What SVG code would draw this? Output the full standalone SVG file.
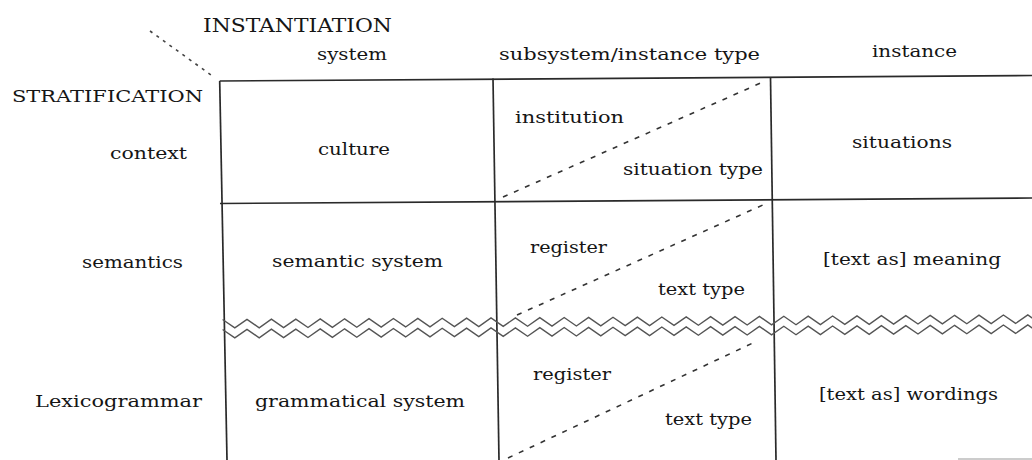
<svg xmlns="http://www.w3.org/2000/svg" width="1032" height="460" viewBox="0 0 1032 460">
<style>
  text { font-family: "DejaVu Serif", "Liberation Serif", serif; fill: #151515; font-size: 17px; }
  .cap { font-size: 19px; }
  .grid line { stroke: #2a2a2a; stroke-width: 1.7; fill: none; }
  .wave { stroke: #555; stroke-width: 1.4; fill: none; stroke-linejoin: miter; }
  .dash { stroke: #333; stroke-width: 1.6; stroke-dasharray: 5 7; fill: none; }
  .dot { stroke: #444; stroke-width: 1.6; stroke-dasharray: 3 5; fill: none; }
</style>
<rect width="1032" height="460" fill="#fff"/>

<g id="connectors">
  <g class="grid">
    <line x1="219.7" y1="81" x2="1032" y2="75.5"/>
    <line x1="220" y1="203.5" x2="1032" y2="198"/>
    <line x1="219.7" y1="81" x2="227" y2="460"/>
    <line x1="493" y1="78.5" x2="499" y2="460"/>
    <line x1="770.5" y1="77" x2="776" y2="460"/>
    <line x1="958" y1="459" x2="1032" y2="459" style="stroke:#999;stroke-width:1"/>
  </g>
  <path class="wave" d="M222.6,319.5 l12.2,8.43 12.2,-8.57 12.2,8.43 12.2,-8.57 12.2,8.43 12.2,-8.57 12.2,8.43 12.2,-8.57 12.2,8.43 12.2,-8.57 12.2,8.43 12.2,-8.57 12.2,8.43 12.2,-8.57 12.2,8.43 12.2,-8.57 12.2,8.43 12.2,-8.57 12.2,8.43 12.2,-8.57 12.2,8.43 12.2,-8.57 12.2,8.43 12.2,-8.57 12.2,8.43 12.2,-8.57 12.2,8.43 12.2,-8.57 12.2,8.43 12.2,-8.57 12.2,8.43 12.2,-8.57 12.2,8.43 12.2,-8.57 12.2,8.43 12.2,-8.57 12.2,8.43 12.2,-8.57 12.2,8.43 12.2,-8.57 12.2,8.43 12.2,-8.57 12.2,8.43 12.2,-8.57 12.2,8.43 12.2,-8.57 12.2,8.43 12.2,-8.57 12.2,8.43 12.2,-8.57 12.2,8.43 12.2,-8.57 12.2,8.43 12.2,-8.57 12.2,8.43 12.2,-8.57 12.2,8.43 12.2,-8.57 12.2,8.43 12.2,-8.57 12.2,8.43 12.2,-8.57 12.2,8.43 12.2,-8.57 12.2,8.43 12.2,-8.57 12.2,8.43 12.2,-8.57 12.2,8.43 12.2,-8.57 12.2,8.43 12.2,-8.57"/>
  <path class="wave" d="M222.6,329.5 l12.2,8.43 12.2,-8.57 12.2,8.43 12.2,-8.57 12.2,8.43 12.2,-8.57 12.2,8.43 12.2,-8.57 12.2,8.43 12.2,-8.57 12.2,8.43 12.2,-8.57 12.2,8.43 12.2,-8.57 12.2,8.43 12.2,-8.57 12.2,8.43 12.2,-8.57 12.2,8.43 12.2,-8.57 12.2,8.43 12.2,-8.57 12.2,8.43 12.2,-8.57 12.2,8.43 12.2,-8.57 12.2,8.43 12.2,-8.57 12.2,8.43 12.2,-8.57 12.2,8.43 12.2,-8.57 12.2,8.43 12.2,-8.57 12.2,8.43 12.2,-8.57 12.2,8.43 12.2,-8.57 12.2,8.43 12.2,-8.57 12.2,8.43 12.2,-8.57 12.2,8.43 12.2,-8.57 12.2,8.43 12.2,-8.57 12.2,8.43 12.2,-8.57 12.2,8.43 12.2,-8.57 12.2,8.43 12.2,-8.57 12.2,8.43 12.2,-8.57 12.2,8.43 12.2,-8.57 12.2,8.43 12.2,-8.57 12.2,8.43 12.2,-8.57 12.2,8.43 12.2,-8.57 12.2,8.43 12.2,-8.57 12.2,8.43 12.2,-8.57 12.2,8.43 12.2,-8.57 12.2,8.43 12.2,-8.57 12.2,8.43 12.2,-8.57"/>
  <line class="dot" x1="150" y1="31" x2="211" y2="75"/>
  <line class="dash" x1="503" y1="197" x2="763" y2="82"/>
  <line class="dash" x1="517" y1="315" x2="765" y2="204"/>
  <line class="dash" x1="508" y1="458" x2="755" y2="342"/>
</g>

<g id="axis-labels">
  <text class="cap" x="203" y="32" textLength="189" lengthAdjust="spacingAndGlyphs">INSTANTIATION</text>
  <text class="cap" x="12" y="102" textLength="191" lengthAdjust="spacingAndGlyphs" style="font-size:17px">STRATIFICATION</text>
</g>

<g id="column-headers">
  <text x="317" y="60" textLength="70" lengthAdjust="spacingAndGlyphs">system</text>
  <text x="499" y="60" textLength="261" lengthAdjust="spacingAndGlyphs">subsystem/instance type</text>
  <text x="872" y="57" textLength="85" lengthAdjust="spacingAndGlyphs">instance</text>
</g>

<g id="row-headers">
  <text x="110" y="159" textLength="77" lengthAdjust="spacingAndGlyphs">context</text>
  <text x="82" y="268" textLength="101" lengthAdjust="spacingAndGlyphs">semantics</text>
  <text x="35" y="407" textLength="167" lengthAdjust="spacingAndGlyphs">Lexicogrammar</text>
</g>

<g id="cell-culture">
  <text x="318" y="155" textLength="72" lengthAdjust="spacingAndGlyphs">culture</text>
</g>
<g id="cell-context-subsystem">
  <text x="515" y="123" textLength="109" lengthAdjust="spacingAndGlyphs">institution</text>
  <text x="623" y="175" textLength="140" lengthAdjust="spacingAndGlyphs">situation type</text>
</g>
<g id="cell-situations">
  <text x="852" y="148" textLength="100" lengthAdjust="spacingAndGlyphs">situations</text>
</g>

<g id="cell-semantic-system">
  <text x="272" y="267" textLength="171" lengthAdjust="spacingAndGlyphs">semantic system</text>
</g>
<g id="cell-semantics-subsystem">
  <text x="530" y="253" textLength="77" lengthAdjust="spacingAndGlyphs">register</text>
  <text x="658" y="295" textLength="87" lengthAdjust="spacingAndGlyphs">text type</text>
</g>
<g id="cell-meaning">
  <text x="823" y="265" textLength="178" lengthAdjust="spacingAndGlyphs">[text as] meaning</text>
</g>

<g id="cell-grammatical-system">
  <text x="255" y="407" textLength="210" lengthAdjust="spacingAndGlyphs">grammatical system</text>
</g>
<g id="cell-lexicogrammar-subsystem">
  <text x="533" y="380" textLength="78" lengthAdjust="spacingAndGlyphs">register</text>
  <text x="665" y="425" textLength="87" lengthAdjust="spacingAndGlyphs">text type</text>
</g>
<g id="cell-wordings">
  <text x="819" y="400" textLength="179" lengthAdjust="spacingAndGlyphs">[text as] wordings</text>
</g>
</svg>
